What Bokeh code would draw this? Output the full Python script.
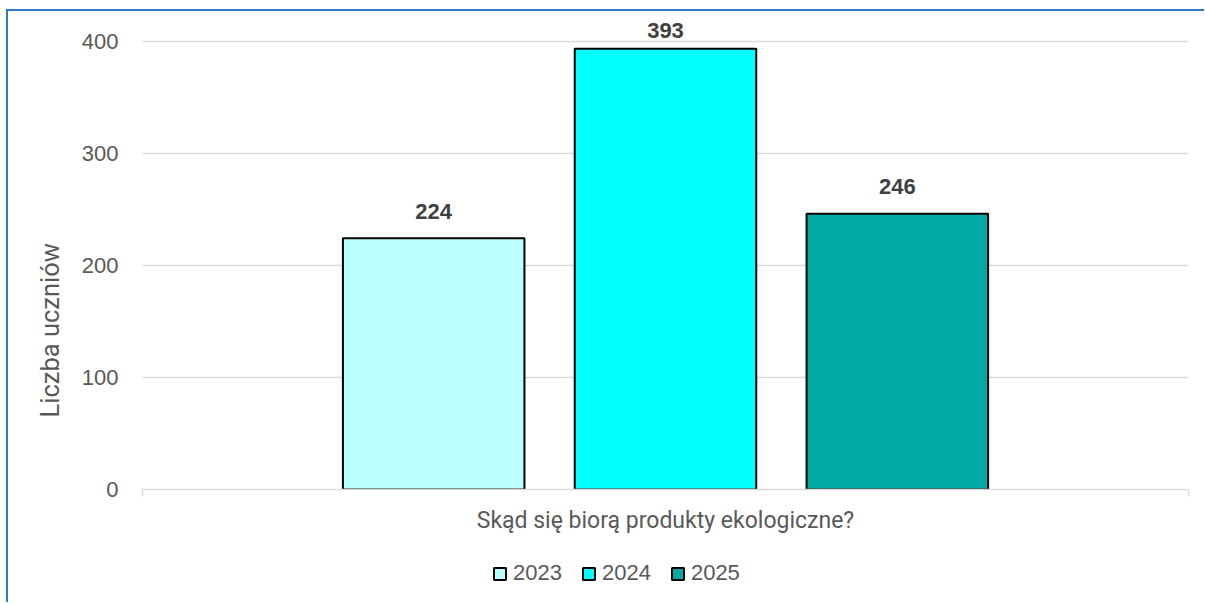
import numpy as np
from bokeh.plotting import figure
from bokeh.layouts import column
from bokeh.models import (ColumnDataSource, Range1d, FixedTicker, Legend,
                          LegendItem, CustomJSTickFormatter, Title)
from bokeh.core.properties import value
from bokeh.embed import file_html
from bokeh.resources import INLINE

# ---- data ----
years = ["2023", "2024", "2025"]
counts = [224, 393, 246]
bar_colors = ["#BAFFFF", "#00FFFF", "#00AAA6"]
category = "Skąd się biorą produkty ekologiczne?"
y_ticks = [0, 100, 200, 300, 400]
y_title = "Liczba uczniów"

TXT = "#595959"
GRID = "#D9D9D9"
TITLE_FONT = "Roboto"

x_pos = np.arange(1, len(years) + 1)
x_start, x_end = 2 - 2.256, 2 + 2.256

p = figure(width=1196, height=545, output_backend="svg", toolbar_location=None,
           x_range=Range1d(x_start, x_end), y_range=Range1d(0, 418.3),
           min_border_left=134, min_border_right=16, min_border_top=9,
           min_border_bottom=67)
p.outline_line_color = None
p.background_fill_color = "white"
p.border_fill_color = "white"

# axes
p.yaxis.ticker = FixedTicker(ticks=y_ticks)
p.yaxis.axis_line_color = None
p.yaxis.major_tick_line_color = None
p.yaxis.major_tick_out = 0
p.yaxis.major_tick_in = 0
p.yaxis.minor_tick_line_color = None
p.yaxis.major_label_standoff = 24
p.yaxis.major_label_text_font = "Liberation Sans"
p.yaxis.major_label_text_font_size = "22px"
p.yaxis.major_label_text_color = TXT

p.xaxis.ticker = FixedTicker(ticks=[x_start, x_end])
p.xaxis.formatter = CustomJSTickFormatter(code="return ''")
p.xaxis.axis_line_color = GRID
p.xaxis.axis_line_width = 1.5
p.xaxis.major_tick_line_color = GRID
p.xaxis.major_tick_line_width = 1.5
p.xaxis.major_tick_in = 0
p.xaxis.major_tick_out = 7
p.xaxis.minor_tick_line_color = None
p.xaxis.major_label_text_font_size = "0px"
p.xaxis.major_label_standoff = 0
p.xaxis.axis_label = category
p.xaxis.axis_label_standoff = 10
p.xaxis.axis_label_text_font = TITLE_FONT
p.xaxis.axis_label_text_font_size = "23px"
p.xaxis.axis_label_text_font_style = "normal"
p.xaxis.axis_label_text_color = TXT

p.xgrid.grid_line_color = None
p.ygrid.ticker = FixedTicker(ticks=y_ticks)
p.ygrid.grid_line_color = GRID
p.ygrid.grid_line_width = 1.5

# legend strip figure (only holds the legend swatches)
q = figure(width=1196, height=46, output_backend="svg", toolbar_location=None,
           x_range=Range1d(0, 1), y_range=Range1d(0, 1),
           min_border_left=0, min_border_right=0, min_border_top=0,
           min_border_bottom=0)
q.axis.visible = False
q.grid.visible = False
q.outline_line_color = None
q.background_fill_color = "white"
q.border_fill_color = "white"

# bars
items = []
for i, (yr, c, col) in enumerate(zip(years, counts, bar_colors)):
    src = ColumnDataSource(dict(x=[x_pos[i]], top=[c]))
    p.vbar(x="x", top="top", width=0.783, source=src, fill_color=col,
           line_color="black", line_width=2)
    # swatch-only renderer: one non-drawable (NaN) row so the legend shows it
    r2 = q.vbar(x=np.array([np.nan]), top=np.array([np.nan]), width=0.783,
                fill_color=col, line_color="black", line_width=2)
    items.append(LegendItem(label=yr, renderers=[r2]))

# value labels
lab_y = np.minimum(np.array(counts) + 24.0, 409.0)
lsrc = ColumnDataSource(dict(x=x_pos, y=lab_y, t=[str(c) for c in counts]))
p.text(x="x", y="y", text="t", source=lsrc, text_align="center",
       text_baseline="middle", text_font=value("Liberation Sans"),
       text_font_style="bold", text_font_size="22px", text_color="#404040")

# y axis title (left panel, shifted like the original)
p.add_layout(Title(text=y_title, align="left", offset=72, vertical_align="bottom",
                   standoff=28, text_font=TITLE_FONT, text_font_size="25.5px",
                   text_font_style="normal", text_color=TXT), "left")

legend = Legend(items=items, orientation="horizontal", location=(350, 16),
                glyph_width=15, glyph_height=15, label_standoff=6, spacing=19,
                padding=0, margin=0, border_line_color=None,
                background_fill_alpha=0,
                label_text_font="Liberation Sans", label_text_font_size="22px",
                label_text_color=TXT)
q.add_layout(legend, "center")

layout = column(p, q, spacing=0)
layout.styles = {"border-left": "2px solid #2B7BCB", "border-top": "2px solid #2B7BCB",
                 "margin-left": "6px", "margin-top": "9px"}

open("out.html", "w").write(file_html(layout, INLINE))
